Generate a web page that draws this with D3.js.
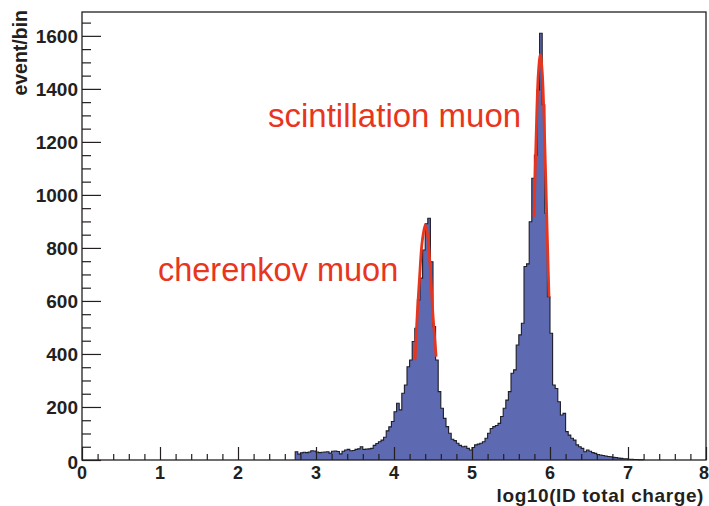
<!DOCTYPE html>
<html>
<head>
<meta charset="utf-8">
<script src="https://cdn.jsdelivr.net/npm/d3@7"></script>
<style>
  body { margin: 0; background: #fff; }
  text { font-family: "Liberation Sans", Arial, sans-serif; }
</style>
</head>
<body>
<svg id="chart" width="709" height="506"></svg>
<script>
// histogram: 240 bins over [0, 8], counts listed from bin 82 on (earlier bins are empty)
const xLow = 0, xHigh = 8, nBins = 240;
const firstBin = 82;
const counts = [
  31, 22, 27, 29, 28, 30, 35, 34, 30, 28,
  29, 30, 31, 26, 33, 34, 32, 23, 33, 38,
  40, 35, 36, 40, 42, 50, 40, 41, 42, 44,
  55, 62, 69, 75, 86, 110, 125, 145, 182, 214,
  189, 252, 283, 352, 377, 447, 497, 604, 686, 792,
  891, 912, 748, 503, 377, 258, 195, 157, 126, 101,
  78, 73, 63, 55, 50, 52, 44, 38, 47, 57,
  60, 63, 69, 82, 101, 119, 126, 130, 138, 164,
  195, 226, 258, 327, 340, 434, 472, 516, 730, 740,
  899, 1063, 1150, 1396, 1610, 1340, 931, 616, 478, 283,
  270, 220, 170, 176, 107, 94, 82, 75, 57, 50,
  44, 31, 38, 33, 28, 25, 21, 19, 17, 15,
  13, 12, 10, 9, 7, 6, 5, 5, 3, 3,
  2, 2, 1, 1
];

// fit curves
const cherenkovFitX = [4.27, 4.30, 4.33, 4.36, 4.40, 4.43, 4.46, 4.50, 4.54];
const cherenkovFitY = [377, 560, 700, 820, 887, 850, 745, 545, 390];
const scintFitX = [5.795, 5.82, 5.85, 5.876, 5.90, 5.93, 5.96, 5.987];
const scintFitY = [918, 1195, 1455, 1530, 1465, 1225, 900, 616];

const yMax = 1690;
const xTicks = [0, 1, 2, 3, 4, 5, 6, 7, 8];
const yTicks = [0, 200, 400, 600, 800, 1000, 1200, 1400, 1600];
const xTitle = 'log10(ID total charge)';
const yTitle = 'event/bin';
const labels = [
  { text: 'scintillation muon', x: 2.385, y: 1257, size: 33 },
  { text: 'cherenkov muon', x: 0.974, y: 675, size: 32.5 }
];

const svg = d3.select('#chart');
const m = { left: 82, right: 706, top: 12, bottom: 460 };

const x = d3.scaleLinear().domain([xLow, xHigh]).range([m.left, m.right]);
const y = d3.scaleLinear().domain([0, yMax]).range([m.bottom, m.top]);

const binWidth = (xHigh - xLow) / nBins;
const steps = counts.map((c, i) => [xLow + (firstBin + i) * binWidth, c]);
steps.push([xLow + (firstBin + counts.length) * binWidth, counts[counts.length - 1]]);

svg.append('path')
  .datum(steps)
  .attr('fill', '#5d69b0')
  .attr('d', d3.area().curve(d3.curveStepAfter)
    .x(d => x(d[0])).y0(y(0)).y1(d => y(d[1])));

const outline = [[steps[0][0], 0]].concat(steps, [[steps[steps.length - 1][0], 0]]);
svg.append('path')
  .datum(outline)
  .attr('fill', 'none')
  .attr('stroke', '#1e1e28')
  .attr('stroke-width', 1.1)
  .attr('d', d3.line().curve(d3.curveStepAfter).x(d => x(d[0])).y(d => y(d[1])));

// fits
const fitLine = d3.line().curve(d3.curveCatmullRom).x(d => x(d[0])).y(d => y(d[1]));
[[cherenkovFitX, cherenkovFitY], [scintFitX, scintFitY]].forEach(([fx, fy]) => {
  svg.append('path')
    .datum(fx.map((v, i) => [v, fy[i]]))
    .attr('fill', 'none')
    .attr('stroke', '#e8351d')
    .attr('stroke-width', 2.8)
    .attr('d', fitLine);
});

// frame
svg.append('rect')
  .attr('x', m.left).attr('y', m.top)
  .attr('width', m.right - m.left).attr('height', m.bottom - m.top)
  .attr('fill', 'none').attr('stroke', '#231f20').attr('stroke-width', 1.3);

// axes, ROOT style: ticks inside the frame
const xAxis = svg.append('g').attr('transform', `translate(0,${m.bottom})`);
xAxis.call(d3.axisTop(x).tickValues(d3.range(0, 8.01, 0.2)).tickSize(6).tickFormat(''));
xAxis.call(g => g.selectAll('.tick').filter(d => Math.abs(d - Math.round(d)) < 1e-6)
  .select('line').attr('y2', -13));
xAxis.select('.domain').remove();
xAxis.selectAll('line').attr('stroke', '#231f20').attr('stroke-width', 1.2);

xAxis.selectAll('.lbl')
  .data(xTicks).enter().append('text')
  .attr('x', d => d === xHigh ? 709 : x(d)).attr('y', 18.5)
  .attr('text-anchor', d => d === xHigh ? 'end' : 'middle')
  .attr('font-size', 18).attr('font-weight', 'bold').attr('fill', '#231f20')
  .text(d => d);

const yAxis = svg.append('g').attr('transform', `translate(${m.left},0)`);
yAxis.call(d3.axisRight(y).tickValues(d3.range(0, 1651, 50)).tickSize(9).tickFormat(''));
yAxis.call(g => g.selectAll('.tick').filter(d => d % 200 === 0)
  .select('line').attr('x2', 19));
yAxis.select('.domain').remove();
yAxis.selectAll('line').attr('stroke', '#231f20').attr('stroke-width', 1.2);

yAxis.selectAll('.lbl')
  .data(yTicks).enter().append('text')
  .attr('x', -4).attr('y', d => y(d) + (d === 0 ? 9 : 7))
  .attr('text-anchor', 'end')
  .attr('font-size', 19).attr('font-weight', 'bold').attr('fill', '#231f20')
  .text(d => d);

svg.append('text')
  .attr('x', 704).attr('y', 502)
  .attr('text-anchor', 'end')
  .attr('font-size', 19).attr('font-weight', 'bold').attr('fill', '#231f20')
  .attr('letter-spacing', 0.6)
  .text(xTitle);

svg.append('text')
  .attr('transform', 'translate(27,10) rotate(-90)')
  .attr('text-anchor', 'end')
  .attr('font-size', 19.5).attr('font-weight', 'bold').attr('fill', '#231f20')
  .text(yTitle);

svg.selectAll('.note')
  .data(labels).enter().append('text')
  .attr('x', d => x(d.x)).attr('y', d => y(d.y))
  .attr('font-family', 'Lato, "Open Sans", sans-serif')
  .attr('font-size', d => d.size)
  .attr('fill', '#e8351d')
  .text(d => d.text);
</script>
</body>
</html>
